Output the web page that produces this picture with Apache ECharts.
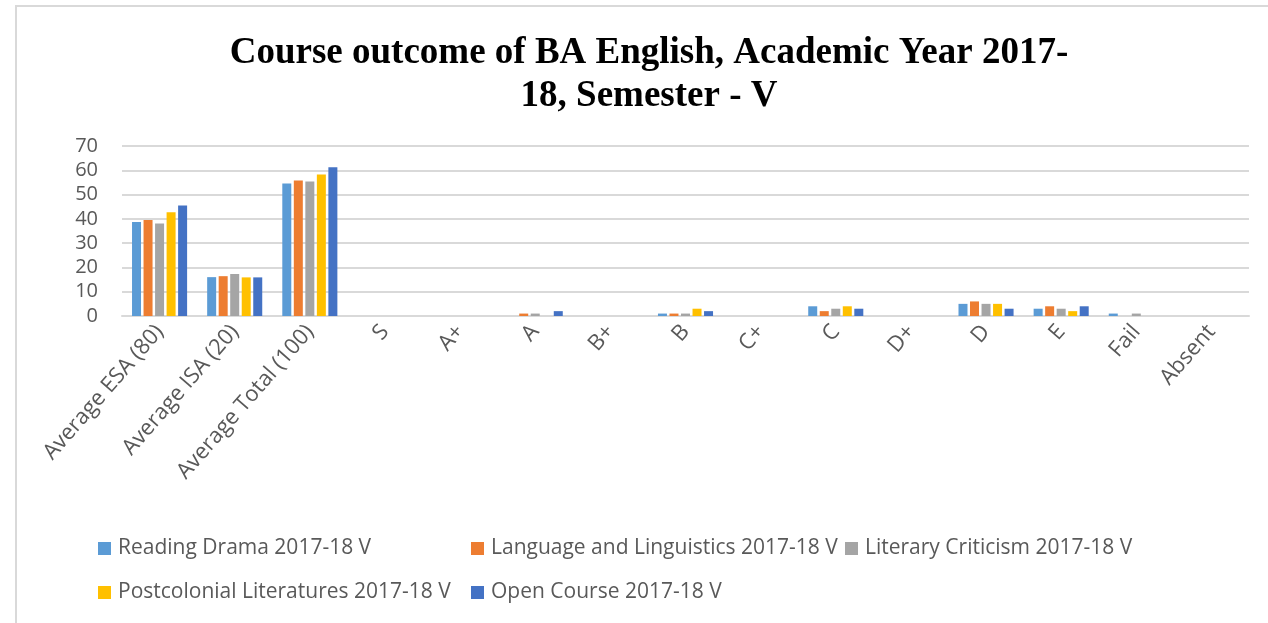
<!DOCTYPE html>
<html>
<head>
<meta charset="utf-8">
<script src="https://cdn.jsdelivr.net/npm/echarts@6/dist/echarts.min.js"></script>
<style>html,body{margin:0;padding:0;background:#fff;}#c{width:1268px;height:623px;}</style>
</head>
<body>
<div id="c"></div>
<script>
const categories = ['Average ESA (80)', 'Average ISA (20)', 'Average Total (100)', 'S', 'A+', 'A', 'B+', 'B', 'C+', 'C', 'D+', 'D', 'E', 'Fail', 'Absent'];
const seriesNames = ['Reading Drama 2017-18 V', 'Language and Linguistics 2017-18 V', 'Literary Criticism 2017-18 V', 'Postcolonial Literatures 2017-18 V', 'Open Course 2017-18 V'];
const readingDrama = [38.7, 16.0, 54.6, 0, 0, 0, 0, 1, 0, 4, 0, 5, 3, 1, 0];
const languageLinguistics = [39.5, 16.4, 55.8, 0, 0, 1, 0, 1, 0, 2, 0, 6, 4, 0, 0];
const literaryCriticism = [38.1, 17.3, 55.4, 0, 0, 1, 0, 1, 0, 3, 0, 5, 3, 1, 0];
const postcolonial = [42.7, 15.9, 58.3, 0, 0, 0, 0, 3, 0, 4, 0, 5, 2, 0, 0];
const openCourse = [45.5, 15.9, 61.3, 0, 0, 2, 0, 2, 0, 3, 0, 3, 4, 0, 0];
const yTicks = [0, 10, 20, 30, 40, 50, 60, 70];
const colors = ['#5B9BD5', '#ED7D31', '#A5A5A5', '#FFC000', '#4472C4'];
const allData = [readingDrama, languageLinguistics, literaryCriticism, postcolonial, openCourse];

const legendPos = [[98, 538], [471, 538], [845, 538], [98, 582], [471, 582]];
const chart = echarts.init(document.getElementById('c'));
chart.setOption({
  animation: false,
  backgroundColor: '#fff',
  title: {
    text: 'Course outcome of BA English, Academic Year 2017-\n18, Semester - V',
    left: 649,
    top: 32,
    padding: 0,
    textAlign: 'center',
    textStyle: {
      fontFamily: 'Liberation Serif',
      fontWeight: 'bold',
      fontSize: 37,
      lineHeight: 43,
      color: '#000'
    }
  },
  legend: legendPos.map((p, i) => ({
    data: [seriesNames[i]],
    left: p[0],
    top: p[1],
    padding: 0,
    itemWidth: 13,
    itemHeight: 13,
    itemGap: 0,
    icon: 'rect',
    textStyle: { fontFamily: 'Open Sans', fontSize: 21, color: '#595959', padding: [0, 0, 0, 2] }
  })),
  grid: { left: 122, right: 19, top: 146, bottom: 623 - 316, containLabel: false },
  xAxis: {
    type: 'category',
    data: categories,
    axisLine: { show: true, lineStyle: { color: '#d9d9d9', width: 2 } },
    axisTick: { show: false },
    axisLabel: {
      interval: 0,
      rotate: 49,
      margin: 12,
      fontFamily: 'Open Sans',
      fontSize: 22,
      color: '#595959'
    }
  },
  yAxis: {
    type: 'value',
    min: 0,
    max: 70,
    interval: 10,
    axisLine: { show: false },
    axisTick: { show: false },
    splitLine: { lineStyle: { color: '#d9d9d9', width: 2 } },
    axisLabel: {
      margin: 24,
      fontFamily: 'Open Sans',
      fontSize: 20,
      color: '#595959',
      formatter: v => yTicks.includes(v) ? String(v) : ''
    }
  },
  graphic: [
    { type: 'line', shape: { x1: 15, y1: 6, x2: 1268, y2: 6 }, style: { stroke: '#d9d9d9', lineWidth: 2 } },
    { type: 'line', shape: { x1: 16, y1: 6, x2: 16, y2: 623 }, style: { stroke: '#d9d9d9', lineWidth: 2 } }
  ],
  series: seriesNames.map((n, i) => ({
    name: n,
    type: 'bar',
    data: allData[i],
    barWidth: 9,
    barGap: '28%',
    itemStyle: { color: colors[i] }
  })),
  color: colors
});
</script>
</body>
</html>
